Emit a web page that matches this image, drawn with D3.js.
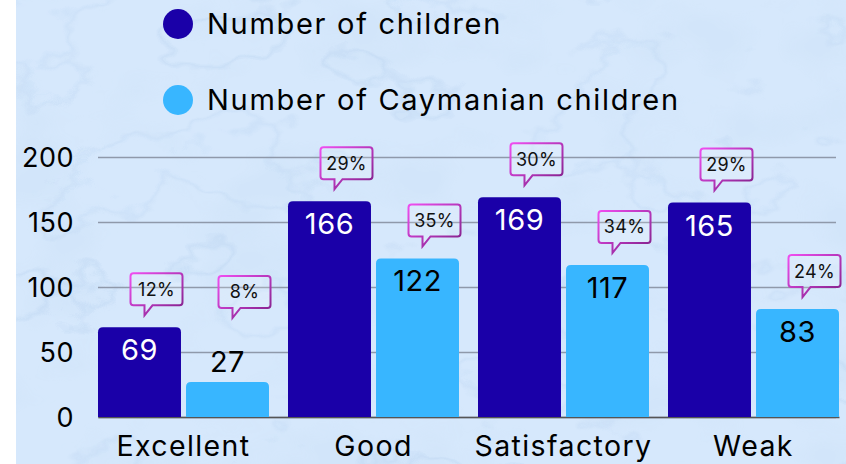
<!DOCTYPE html>
<html><head><meta charset="utf-8">
<script src="https://cdn.jsdelivr.net/npm/d3@7"></script>
<style>body{margin:0;background:#fff}svg{display:block}</style>
</head><body><svg id="c" width="846" height="464"></svg>
<script>
const categories = ["Excellent", "Good", "Satisfactory", "Weak"];
const seriesNames = ["Number of children", "Number of Caymanian children"];
const children = [69, 166, 169, 165];
const caymanian = [27, 122, 117, 83];
const childrenPct = ["12%", "29%", "30%", "29%"];
const caymanianPct = ["8%", "35%", "34%", "24%"];
const yTicks = [0, 50, 100, 150, 200];
const colors = ["#1a00a8", "#38b6ff"];
const labelColors = ["#ffffff", "#000000"];

const FONT = "Inter, 'Open Sans', sans-serif";
const svg = d3.select("#c");
const W = 846, H = 464;

// background (marble)
const defs = svg.append("defs");
const f = defs.append("filter").attr("id", "marble").attr("x", 0).attr("y", 0).attr("width", 1).attr("height", 1);
f.append("feTurbulence").attr("type", "fractalNoise").attr("baseFrequency", "0.006 0.009").attr("numOctaves", 5).attr("seed", 11).attr("result", "n");
f.append("feColorMatrix").attr("in", "n").attr("type", "matrix")
  .attr("values", "0 0 0 0 0.45  0 0 0 0 0.62  0 0 0 0 0.85  1 0 0 0 0").attr("result", "a");
const ct = f.append("feComponentTransfer").attr("in", "a");
ct.append("feFuncA").attr("type", "table").attr("tableValues", "0 0 0 0 0 0 0 0 0 0.5 0 0 0 0 0 0 0 0 0 0.35 0 0 0 0 0 0 0 0 0 0");
const f2 = defs.append("filter").attr("id", "cloud").attr("x", 0).attr("y", 0).attr("width", 1).attr("height", 1);
f2.append("feTurbulence").attr("type", "fractalNoise").attr("baseFrequency", "0.01 0.014").attr("numOctaves", 3).attr("seed", 4).attr("result", "n");
f2.append("feColorMatrix").attr("in", "n").attr("type", "matrix")
  .attr("values", "0 0 0 0 0.6  0 0 0 0 0.75  0 0 0 0 0.92  0 0 -4 0 2.1");

const g1 = defs.append("linearGradient").attr("id", "cb").attr("x1", 0).attr("y1", 0).attr("x2", 1).attr("y2", 1);
g1.append("stop").attr("offset", 0).attr("stop-color", "#f04ef0");
g1.append("stop").attr("offset", 1).attr("stop-color", "#7d1f86");

svg.append("rect").attr("x", 16).attr("y", 0).attr("width", W - 16).attr("height", H).attr("fill", "#d6e8fc");
svg.append("rect").attr("x", 16).attr("y", 0).attr("width", W - 16).attr("height", H).attr("filter", "url(#cloud)").attr("opacity", 0.3);
svg.append("rect").attr("x", 16).attr("y", 0).attr("width", W - 16).attr("height", H).attr("filter", "url(#marble)").attr("opacity", 0.6);

// scales
const y = d3.scaleLinear().domain([0, 200]).range([417, 157]);
const x0 = d3.scaleBand().domain(categories).range([98, 839]).paddingInner(0.1).paddingOuter(0);
const x1 = d3.scaleBand().domain([0, 1]).range([0, x0.bandwidth()]).paddingInner(0.057);

// gridlines + y labels
const yAxis = d3.axisLeft(y).tickValues(yTicks).tickSize(-(836 - 98)).tickFormat(d3.format("d"));
const ga = svg.append("g").attr("transform", "translate(98,0)").call(yAxis);
ga.select(".domain").remove();
ga.selectAll(".tick line").attr("stroke", "#8f99aa").attr("stroke-width", 1.5);
ga.selectAll(".tick text").attr("x", -24).attr("dy", "0.35em").attr("fill", "#000")
  .style("font-family", FONT).style("font-size", "27px").style("letter-spacing", "0.5px");

// x axis labels
const xAxis = d3.axisBottom(x0).tickSize(0).tickPadding(0);
const gx = svg.append("g").attr("transform", "translate(0,417)").call(xAxis);
gx.select(".domain").attr("stroke", "#555").attr("stroke-width", 1.5);
gx.selectAll(".tick text").attr("y", 39).attr("dy", 0).attr("fill", "#000")
  .style("font-family", FONT).style("font-size", "28.5px").style("letter-spacing", "1.4px");

function topRounded(x, yT, w, h, r) {
  r = Math.min(r, h);
  return `M${x},${yT + h}V${yT + r}Q${x},${yT} ${x + r},${yT}H${x + w - r}Q${x + w},${yT} ${x + w},${yT + r}V${yT + h}Z`;
}

const data = categories.map((c, i) => ({
  cat: c,
  vals: [children[i], caymanian[i]],
  pcts: [childrenPct[i], caymanianPct[i]]
}));

const groups = svg.append("g").selectAll("g").data(data).join("g")
  .attr("transform", d => `translate(${x0(d.cat)},0)`);

groups.each(function (d) {
  const g = d3.select(this);
  [0, 1].forEach(s => {
    const v = d.vals[s];
    const bx = x1(s), bw = x1.bandwidth();
    const top = y(v), h = y(0) - top;
    g.append("path").attr("d", topRounded(bx, top, bw, h, 5)).attr("fill", colors[s]);
    const outside = h < 45;
    g.append("text").attr("x", bx + bw / 2).attr("y", outside ? top - 10 : top + 33)
      .attr("text-anchor", "middle").attr("fill", outside ? "#000" : labelColors[s])
      .style("font-family", FONT).style("font-size", "29px").style("letter-spacing", "0.5px").text(v);
    // callout
    const tipX = bx + bw / 2 + 5;
    const tipY = outside ? top - 64 : top - 12;
    const bw2 = 52, bh = 32;
    const left = tipX - 14, btm = tipY - 10, tp = btm - bh, r = 3;
    const p = `M${left + r},${tp}H${left + bw2 - r}Q${left + bw2},${tp} ${left + bw2},${tp + r}V${btm - r}Q${left + bw2},${btm} ${left + bw2 - r},${btm}` +
      `H${tipX + 8}L${tipX},${tipY}V${btm}H${left + r}Q${left},${btm} ${left},${btm - r}V${tp + r}Q${left},${tp} ${left + r},${tp}Z`;
    g.append("path").attr("d", p).attr("fill", "rgba(255,255,255,0.15)").attr("stroke", "url(#cb)").attr("stroke-width", 2);
    g.append("text").attr("x", left + bw2 / 2).attr("y", tp + bh / 2).attr("dy", "0.36em")
      .attr("text-anchor", "middle").attr("fill", "#111")
      .style("font-family", FONT).style("font-size", "18px").style("letter-spacing", "0.3px").text(d.pcts[s]);
  });
});

// legend
const lg = svg.append("g").selectAll("g").data(seriesNames).join("g")
  .attr("transform", (d, i) => `translate(178,${24 + i * 76})`);
lg.append("circle").attr("r", 15).attr("fill", (d, i) => colors[i]);
lg.append("text").attr("x", 29).attr("dy", "0.35em").attr("fill", "#000")
  .style("font-family", FONT).style("font-size", "29px").style("letter-spacing", "1.7px").text(d => d);
</script></body></html>
